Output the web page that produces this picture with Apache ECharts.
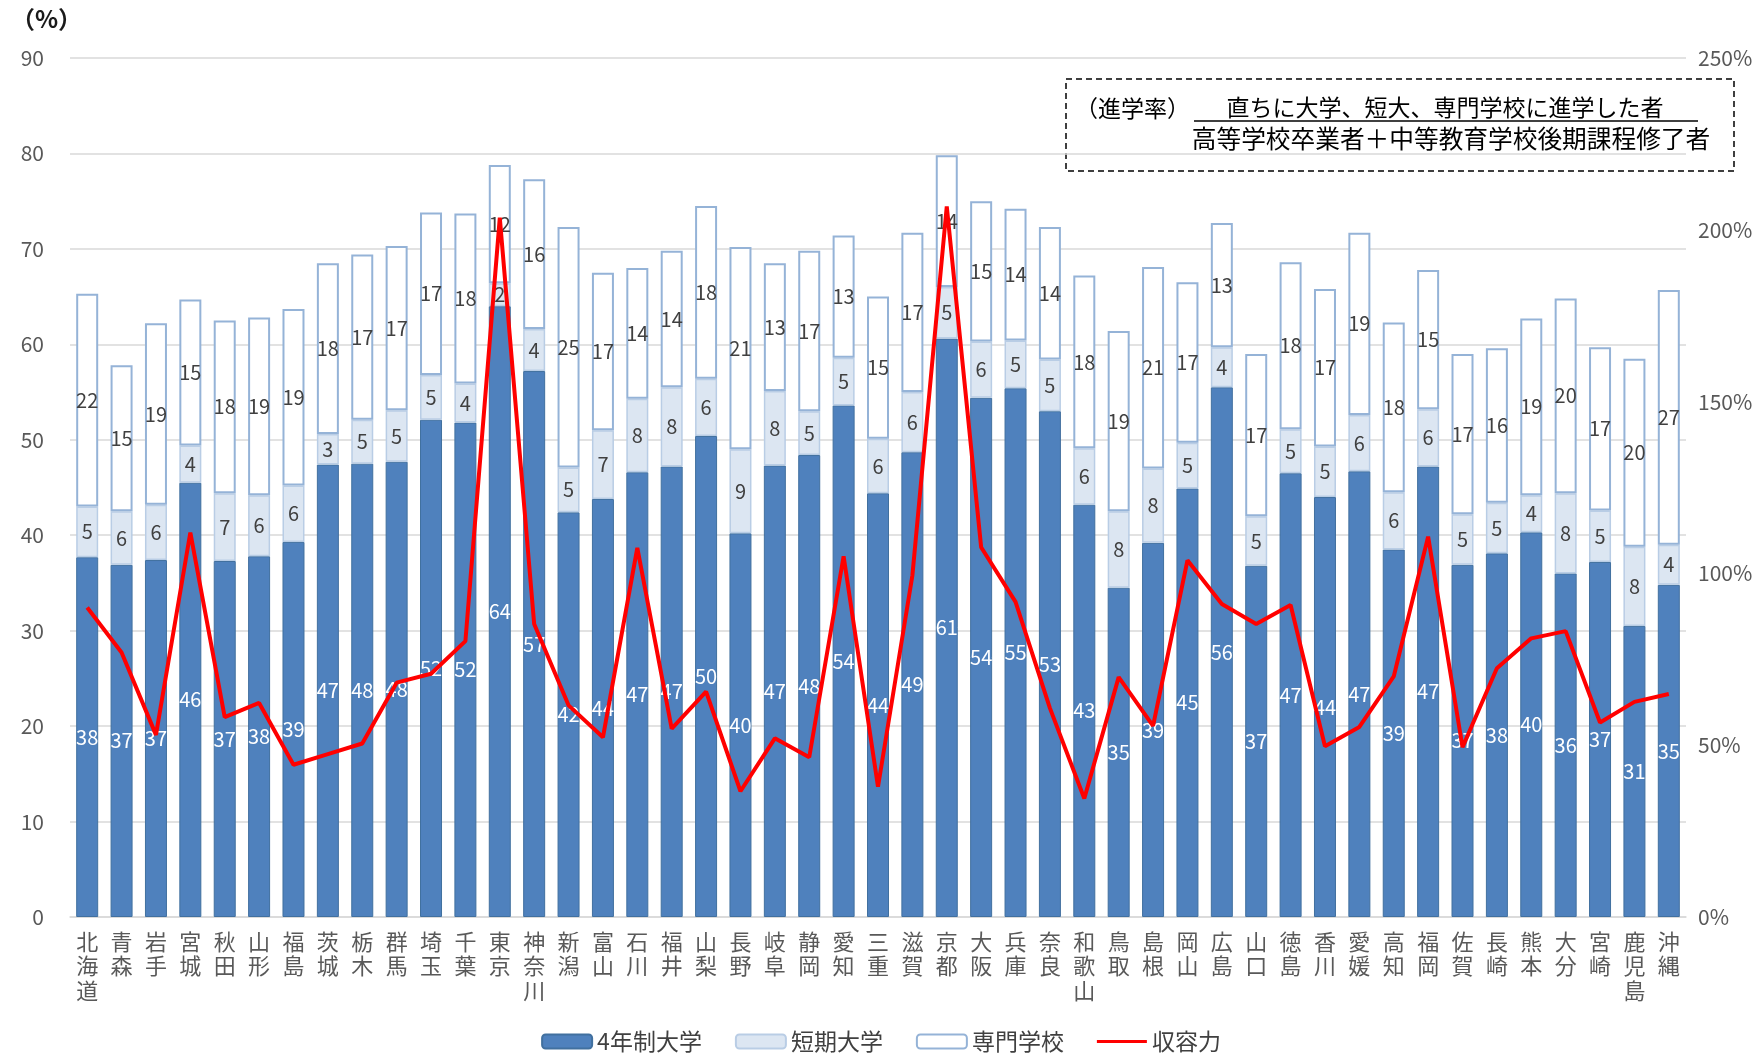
<!DOCTYPE html>
<html><head><meta charset="utf-8">
<script src="https://cdn.jsdelivr.net/npm/echarts@6/dist/echarts.min.js"></script>
<style>html,body{margin:0;padding:0;background:#fff}#c{width:1762px;height:1055px}</style>
</head><body><div id="c"></div>
<script>
const categories = ['北海道','青森','岩手','宮城','秋田','山形','福島','茨城','栃木','群馬','埼玉','千葉','東京','神奈川','新潟','富山','石川','福井','山梨','長野','岐阜','静岡','愛知','三重','滋賀','京都','大阪','兵庫','奈良','和歌山','鳥取','島根','岡山','広島','山口','徳島','香川','愛媛','高知','福岡','佐賀','長崎','熊本','大分','宮崎','鹿児島','沖縄'];
const univ4 = [37.7,36.9,37.4,45.5,37.3,37.8,39.3,47.4,47.5,47.7,52.1,51.8,64.0,57.2,42.4,43.8,46.6,47.2,50.4,40.2,47.3,48.4,53.6,44.4,48.7,60.6,54.4,55.4,53.0,43.2,34.5,39.2,44.9,55.5,36.8,46.5,44.0,46.7,38.5,47.2,36.9,38.1,40.3,36.0,37.2,30.5,34.8];
const junior = [5.3,5.6,5.8,3.9,7.1,6.4,5.9,3.2,4.6,5.4,4.7,4.1,2.4,4.4,4.7,7.2,7.7,8.3,6.0,8.8,7.8,4.6,5.0,5.7,6.3,5.4,5.9,5.0,5.4,5.9,8.0,7.8,4.8,4.2,5.2,4.6,5.3,5.9,6.0,6.0,5.3,5.3,3.9,8.4,5.4,8.3,4.2];
const vocational = [22.3,15.3,19.0,15.3,18.1,18.6,18.5,17.9,17.3,17.2,17.0,17.8,12.4,15.7,25.2,16.5,13.7,14.3,18.1,21.2,13.4,16.8,12.8,14.9,16.7,13.8,14.7,13.8,13.9,18.1,18.9,21.1,16.8,13.0,17.0,17.5,16.5,19.1,17.8,14.6,16.8,16.2,18.5,20.4,17.1,19.7,26.7];
const capacity = [90.1,77.0,53.0,111.9,58.2,62.3,44.3,47.4,50.5,68.2,70.8,80.3,203.5,85.3,61.6,52.3,107.4,54.8,65.6,36.6,52.0,46.5,105.0,37.9,99.4,206.8,107.6,91.7,60.8,34.5,69.8,55.6,103.8,91.1,85.3,90.8,49.7,55.3,70.0,110.7,49.4,72.4,81.1,83.2,56.6,62.6,64.9];
const leftTicks = {min:0,max:90,interval:10};
const rightTicks = {min:0,max:250,interval:50};

const FONT = '"Noto Sans CJK JP", "Noto Sans", sans-serif';
const chart = echarts.init(document.getElementById('c'), null, {renderer:'canvas'});
const lbl = (color) => ({show:true, position:'inside', color:color, fontSize:20, fontFamily:FONT, formatter:p=>Math.round(p.value)});
const lineIcon = 'path://M0,0L0.01,0M0,5.5L50,5.5L50,8.5L0,8.5ZM0,14L0.01,14';
chart.setOption({
  animation:false,
  textStyle:{fontFamily:FONT},
  grid:{left:70, right:76, top:58, bottom:138},
  legend:{
    bottom:-3, left:'center', itemWidth:50, itemHeight:14, itemGap:33,
    textStyle:{fontSize:23, color:'#404040', fontFamily:FONT},
    data:['4年制大学','短期大学','専門学校',{name:'収容力', icon:lineIcon, itemStyle:{color:'#ff0000', borderWidth:0}}]
  },
  xAxis:{
    type:'category', data:categories,
    axisLine:{show:true, lineStyle:{color:'#d9d9d9', width:1.5}},
    axisTick:{show:false},
    axisLabel:{interval:0, color:'#595959', fontSize:22, lineHeight:24.5, margin:12, fontFamily:FONT,
      formatter:v=>v.split('').join('\n')}
  },
  yAxis:[
    {type:'value', min:leftTicks.min, max:leftTicks.max, interval:leftTicks.interval,
     axisLine:{show:false}, axisTick:{show:false},
     splitLine:{lineStyle:{color:'#d9d9d9', width:1.5}},
     axisLabel:{color:'#595959', fontSize:21, margin:26, fontFamily:FONT}},
    {type:'value', min:rightTicks.min, max:rightTicks.max, interval:rightTicks.interval,
     axisLine:{show:false}, axisTick:{show:false}, splitLine:{show:false},
     axisLabel:{color:'#595959', fontSize:21, margin:12, fontFamily:FONT, formatter:'{value}%'}}
  ],
  series:[
    {name:'4年制大学', type:'bar', stack:'s', data:univ4, barWidth:22,
     itemStyle:{color:'#4f81bd', borderColor:'#41709f', borderWidth:1},
     label:lbl('#ffffff')},
    {name:'短期大学', type:'bar', stack:'s', data:junior, barWidth:22,
     itemStyle:{color:'#dce6f2', borderColor:'#b9cde5', borderWidth:1.5},
     label:lbl('#404040')},
    {name:'専門学校', type:'bar', stack:'s', data:vocational, barWidth:22,
     itemStyle:{color:'#ffffff', borderColor:'#95b3d7', borderWidth:2},
     label:lbl('#404040')},
    {name:'収容力', type:'line', yAxisIndex:1, data:capacity, symbol:'none', z:5,
     lineStyle:{color:'#ff0000', width:4}, itemStyle:{color:'#ff0000'}}
  ],
  graphic:[
    {type:'text', left:11, top:7, style:{text:'（%）', fontSize:24, fill:'#1a1a1a', fontFamily:FONT, fontWeight:'bold'}},
    {type:'rect', shape:{x:1066, y:79, width:668, height:92},
     style:{fill:'none', stroke:'#000', lineWidth:1.5, lineDash:[6,4]}},
    {type:'text', x:1075, y:108, style:{text:'（進学率）', fontSize:23, fill:'#000', fontFamily:FONT, verticalAlign:'middle', textAlign:'left'}},
    {type:'text', x:1445, y:107, style:{text:'直ちに大学、短大、専門学校に進学した者', fontSize:23, fill:'#000', fontFamily:FONT, verticalAlign:'middle', textAlign:'center'}},
    {type:'line', shape:{x1:1194, y1:121, x2:1698, y2:121}, style:{stroke:'#000', lineWidth:1.5}},
    {type:'text', x:1451, y:139, style:{text:'高等学校卒業者＋中等教育学校後期課程修了者', fontSize:24.7, fill:'#000', fontFamily:FONT, verticalAlign:'middle', textAlign:'center'}}
  ]
});
</script></body></html>
